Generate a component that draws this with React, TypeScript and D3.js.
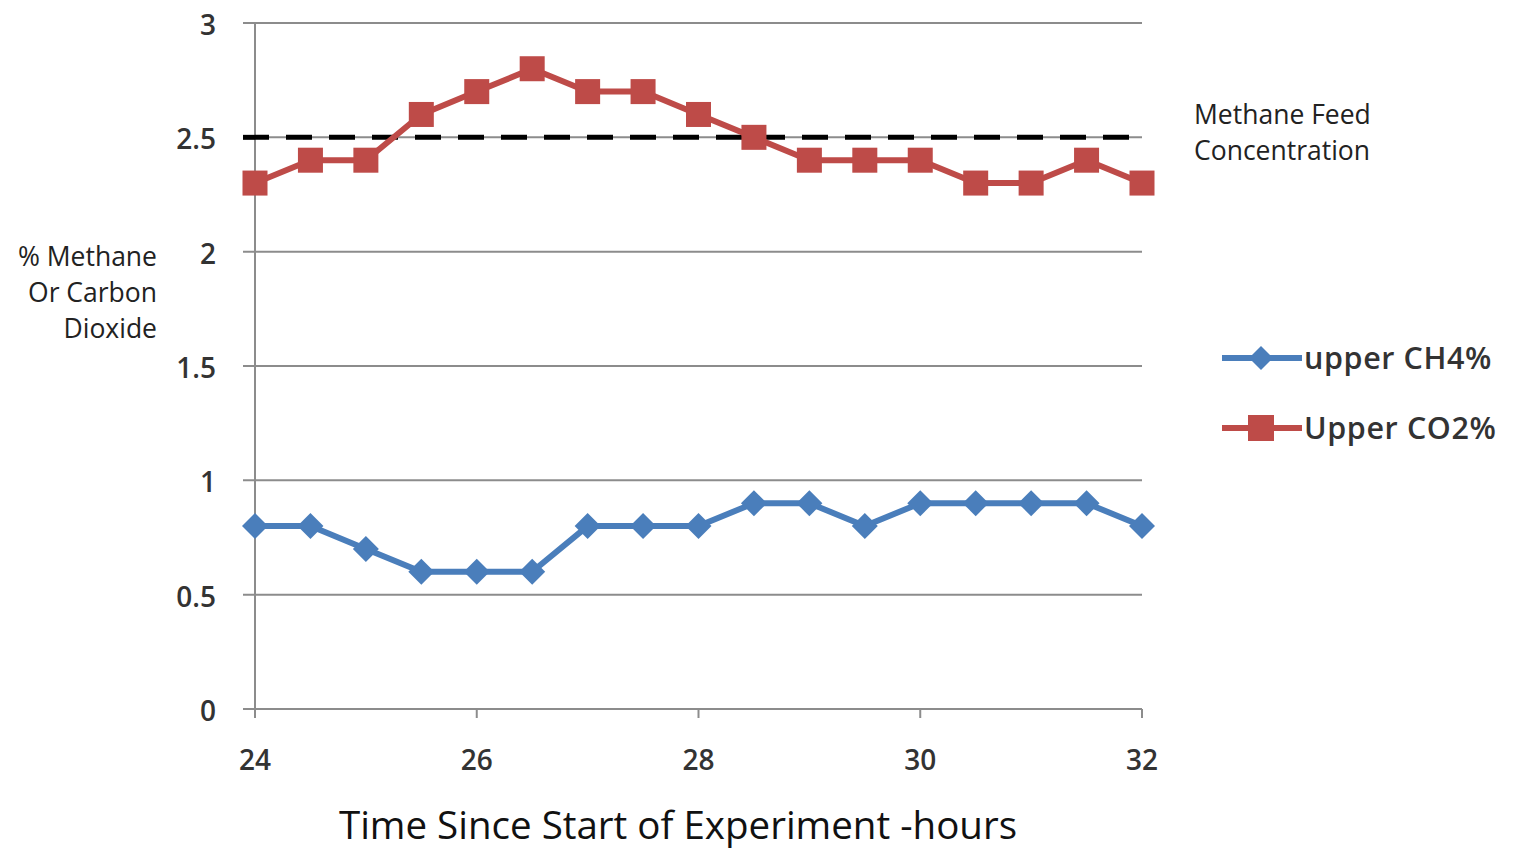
import React from "react";
import * as d3 from "d3";

const hours = [24, 24.5, 25, 25.5, 26, 26.5, 27, 27.5, 28, 28.5, 29, 29.5, 30, 30.5, 31, 31.5, 32];
const ch4 = [0.8, 0.8, 0.7, 0.6, 0.6, 0.6, 0.8, 0.8, 0.8, 0.9, 0.9, 0.8, 0.9, 0.9, 0.9, 0.9, 0.8];
const co2 = [2.3, 2.4, 2.4, 2.6, 2.7, 2.8, 2.7, 2.7, 2.6, 2.5, 2.4, 2.4, 2.4, 2.3, 2.3, 2.4, 2.3];
const yTicks = [0, 0.5, 1, 1.5, 2, 2.5, 3];
const xTicks = [24, 26, 28, 30, 32];
const feedLevel = 2.5;
const seriesNames = ["upper CH4%", "Upper CO2%"];

const BLUE = "#4a7ebb";
const RED = "#be4b48";
const GRID = "#8c8c8c";
const FONT = "'Open Sans', Lato, sans-serif";

export default function App() {
  const W = 1513, H = 853;
  const x = d3.scaleLinear().domain([24, 32]).range([255, 1142]);
  const y = d3.scaleLinear().domain([0, 3]).range([709, 23]);
  const line = d3.line<[number, number]>().x(d => x(d[0])).y(d => y(d[1]));
  const ch4Pts: [number, number][] = hours.map((h, i) => [h, ch4[i]]);
  const co2Pts: [number, number][] = hours.map((h, i) => [h, co2[i]]);
  const diamond = (cx: number, cy: number, r: number) =>
    `M${cx},${cy - r}L${cx + r},${cy}L${cx},${cy + r}L${cx - r},${cy}Z`;
  const sq = 25;

  return (
    <svg width={W} height={H} style={{ position: "absolute", left: 0, top: 0, background: "#fff" }}>
      <rect width={W} height={H} fill="#fff" />
      {yTicks.map(t => (
        <g key={t}>
          <line x1={243} x2={x(32)} y1={y(t)} y2={y(t)} stroke={GRID} strokeWidth={2} />
          <text x={216} y={y(t) + 2} dy="0.36em" textAnchor="end" fontFamily={FONT} fontSize={28} fontWeight={600} fill="#333">
            {t}
          </text>
        </g>
      ))}
      <line x1={x(24)} x2={x(24)} y1={y(3)} y2={y(0) + 9} stroke={GRID} strokeWidth={2} />
      {xTicks.map(t => (
        <g key={t}>
          <line x1={x(t)} x2={x(t)} y1={y(0)} y2={y(0) + 9} stroke={GRID} strokeWidth={2} />
          <text x={x(t)} y={770} textAnchor="middle" fontFamily={FONT} fontSize={28} fontWeight={600} fill="#333">
            {t}
          </text>
        </g>
      ))}
      <line x1={243} x2={x(32)} y1={y(feedLevel)} y2={y(feedLevel)} stroke="#000" strokeWidth={5} strokeDasharray="26 17" />
      <path d={line(ch4Pts) || ""} fill="none" stroke={BLUE} strokeWidth={6} strokeLinejoin="round" />
      {ch4Pts.map((p, i) => (
        <path key={i} d={diamond(x(p[0]), y(p[1]), 13)} fill={BLUE} />
      ))}
      <path d={line(co2Pts) || ""} fill="none" stroke={RED} strokeWidth={6} strokeLinejoin="round" />
      {co2Pts.map((p, i) => (
        <rect key={i} x={x(p[0]) - sq / 2} y={y(p[1]) - sq / 2} width={sq} height={sq} fill={RED} />
      ))}
      <text fontFamily={FONT} fontSize={26.5} fill="#222" textAnchor="end">
        <tspan x={157} y={266}>% Methane</tspan>
        <tspan x={157} y={302}>Or Carbon</tspan>
        <tspan x={157} y={338}>Dioxide</tspan>
      </text>
      <text fontFamily={FONT} fontSize={26.5} fill="#222">
        <tspan x={1194} y={124}>Methane Feed</tspan>
        <tspan x={1194} y={160}>Concentration</tspan>
      </text>
      <text x={678} y={839} textAnchor="middle" fontFamily={FONT} fontSize={38.5} fill="#111">
        Time Since Start of Experiment -hours
      </text>
      <g>
        <line x1={1222} x2={1302} y1={358} y2={358} stroke={BLUE} strokeWidth={6} />
        <path d={diamond(1261, 358, 12)} fill={BLUE} />
        <text x={1304} y={358} dy="0.36em" fontFamily={FONT} fontSize={30.5} fontWeight={600} letterSpacing={0.6} fill="#333">{seriesNames[0]}</text>
        <line x1={1222} x2={1302} y1={428} y2={428} stroke={RED} strokeWidth={6} />
        <rect x={1248} y={415} width={26} height={26} fill={RED} />
        <text x={1304} y={428} dy="0.36em" fontFamily={FONT} fontSize={30.5} fontWeight={600} letterSpacing={0.6} fill="#333">{seriesNames[1]}</text>
      </g>
    </svg>
  );
}
